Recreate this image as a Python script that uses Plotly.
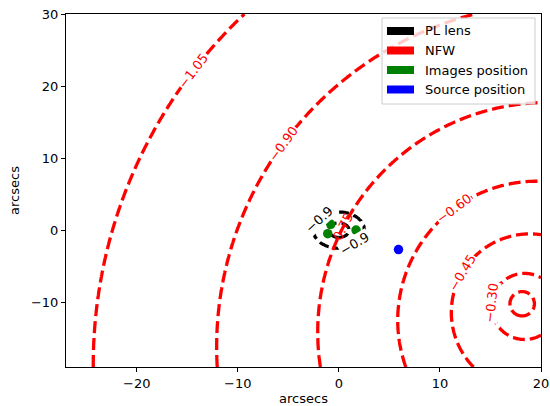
import numpy as np
import plotly.graph_objects as go

# ---- data -------------------------------------------------------------
# NFW lens potential: contour levels and the radius (arcsec) of each level curve
nfw_levels = [-1.05, -0.90, -0.75, -0.60, -0.45, -0.30, -0.15]
nfw_radii = [47.8, 34.0, 22.7, 13.75, 7.76, 3.26, 1.2]
nfw_center = (18.0, -10.0)
nfw_label_levels = [-1.05, -0.90, -0.75, -0.60, -0.45, -0.30]
nfw_label_angles = [144.7, 146.2, 158.6, 125.4, 152.9, 181.5]

# power-law lens potential
pl_levels = [-1.2, -0.9]
pl_radii = [1.0, 2.5]
pl_center = (0.0, 0.0)
pl_label_level = -0.9
pl_label_angles = [142.0, -50.0]

# lensed images and source
images_x = [-1.1, 1.7, -0.8]
images_y = [-0.5, 0.0, 0.8]
source_x = [5.9]
source_y = [-2.7]

# ---- geometry -----------------------------------------------------------
XR = (-27.0, 20.0)
YR = (-19.0, 30.0)
W, H = 550, 406
ML, MR, MT, MB = 66, 9, 14, 39
PW, PH = W - ML - MR, H - MT - MB
Q = (PH / (YR[1] - YR[0])) / (PW / (XR[1] - XR[0]))  # y -> x pixel ratio
BETA = np.array([0.115, -0.13])                      # outward drift of NFW level curves
FONT = "DejaVu Sans"
FS = 13

xg = np.linspace(XR[0], XR[1], 471)
yg = np.linspace(YR[0], YR[1], 491)
XX, YY = np.meshgrid(xg, yg)


def level_radius(u, w):
    """radius of the drifting level circle passing through (u, w)"""
    b2 = BETA @ BETA
    bd = BETA[0] * u + BETA[1] * w
    d2 = u * u + w * w
    return (-bd + np.sqrt(bd * bd + (1 - b2) * d2)) / (1 - b2)


# NFW field
U = XX - nfw_center[0]
Wv = (YY - nfw_center[1]) * Q
Rn = level_radius(U, Wv)
rr = [0.0] + nfw_radii[::-1] + [120.0]
ll = [0.0] + nfw_levels[::-1] + [-1.8]
Z_nfw = np.interp(Rn, rr, ll)

# PL field
Rp = np.hypot(XX - pl_center[0], YY - pl_center[1])
Z_pl = np.interp(Rp, [0.0] + pl_radii + [60.0], [-1.6] + pl_levels + [1.0])

fig = go.Figure()

fig.add_trace(go.Contour(
    x=xg, y=yg, z=Z_pl, showscale=False, hoverinfo="skip",
    contours=dict(start=min(pl_levels), end=max(pl_levels) + 1e-6,
                  size=pl_levels[1] - pl_levels[0], coloring="none"),
    line=dict(color="black", width=3.2, dash="10px,5px", smoothing=1),
))
fig.add_trace(go.Contour(
    x=xg, y=yg, z=Z_nfw, showscale=False, hoverinfo="skip",
    contours=dict(start=min(nfw_levels), end=max(nfw_levels) + 1e-6,
                  size=0.15, coloring="none"),
    line=dict(color="red", width=3.3, dash="12px,5px", smoothing=1),
))
fig.add_trace(go.Scatter(x=images_x, y=images_y, mode="markers",
                         marker=dict(color="green", size=9.5), hoverinfo="skip"))
fig.add_trace(go.Scatter(x=source_x, y=source_y, mode="markers",
                         marker=dict(color="blue", size=9.5), hoverinfo="skip"))


def fmt(v, nd):
    return f"{v:.{nd}f}".replace("-", "\u2212")


def upright(ang):
    while ang > 90:
        ang -= 180
    while ang <= -90:
        ang += 180
    return ang


annotations = []
# NFW contour labels placed on their level curves, aligned with the curve
for lv, th in zip(nfw_label_levels, nfw_label_angles):
    R = nfw_radii[nfw_levels.index(lv)]
    e = np.array([np.cos(np.radians(th)), np.sin(np.radians(th))])
    be = BETA @ e
    s = R * be + R * np.sqrt(be * be + 1 - BETA @ BETA)
    p = s * e
    n = p - BETA * R
    ang = upright(np.degrees(np.arctan2(n[0], -n[1])))
    bg = "rgba(0,0,0,0)" if lv == -0.75 else "white"
    annotations.append(dict(
        x=nfw_center[0] + p[0], y=nfw_center[1] + p[1] / Q, xref="x", yref="y",
        text=fmt(lv, 2), showarrow=False, textangle=-ang, bgcolor=bg, borderpad=0,
        font=dict(family=FONT, size=FS, color="red")))

# PL contour labels
Rl = pl_radii[pl_levels.index(pl_label_level)]
for th in pl_label_angles:
    t = np.radians(th)
    px, py = Rl * np.cos(t), Rl * np.sin(t)
    ang = upright(np.degrees(np.arctan2(np.cos(t) * Q, -np.sin(t))))
    annotations.append(dict(
        x=pl_center[0] + px, y=pl_center[1] + py, xref="x", yref="y",
        text=fmt(pl_label_level, 1), showarrow=False, textangle=-ang,
        bgcolor="white", borderpad=0,
        font=dict(family=FONT, size=FS, color="black")))

# legend
legend_names = ["PL lens", "NFW", "Images position", "Source position"]
legend_colors = ["black", "red", "green", "blue"]


def fx(px):
    return (px - ML) / PW


def fy(py):
    return (H - MB - py) / PH


shapes = [dict(type="rect", xref="paper", yref="paper",
               x0=fx(382), x1=fx(535), y0=fy(104), y1=fy(18),
               line=dict(color="#cccccc", width=1), fillcolor="rgba(255,255,255,0.8)",
               layer="above")]
for i, (nm, col) in enumerate(zip(legend_names, legend_colors)):
    cy = 31 + i * 19.5
    shapes.append(dict(type="rect", xref="paper", yref="paper",
                       x0=fx(387), x1=fx(414), y0=fy(cy + 4), y1=fy(cy - 4),
                       line=dict(width=0), fillcolor=col, layer="above"))
    annotations.append(dict(x=fx(423), y=fy(cy), xref="paper", yref="paper",
                            text=nm, showarrow=False, xanchor="left", yanchor="middle",
                            font=dict(family=FONT, size=FS, color="black")))

axis_common = dict(showgrid=False, zeroline=False, showline=True, mirror=True,
                   linecolor="black", linewidth=1, ticks="outside", ticklen=4,
                   tickcolor="black", automargin=False,
                   tickfont=dict(family=FONT, size=FS, color="black"))

fig.update_layout(
    width=W, height=H, margin=dict(l=ML, r=MR, t=MT, b=MB),
    paper_bgcolor="white", plot_bgcolor="white", showlegend=False,
    xaxis=dict(range=list(XR), tickvals=[-20, -10, 0, 10, 20],
               title=dict(text="arcsecs", font=dict(family=FONT, size=FS, color="black"),
                          standoff=6), **axis_common),
    yaxis=dict(range=list(YR), tickvals=[-10, 0, 10, 20, 30],
               title=dict(text="arcsecs", font=dict(family=FONT, size=FS, color="black"),
                          standoff=8), **axis_common),
    shapes=shapes, annotations=annotations,
)

fig.write_html("out.html")
